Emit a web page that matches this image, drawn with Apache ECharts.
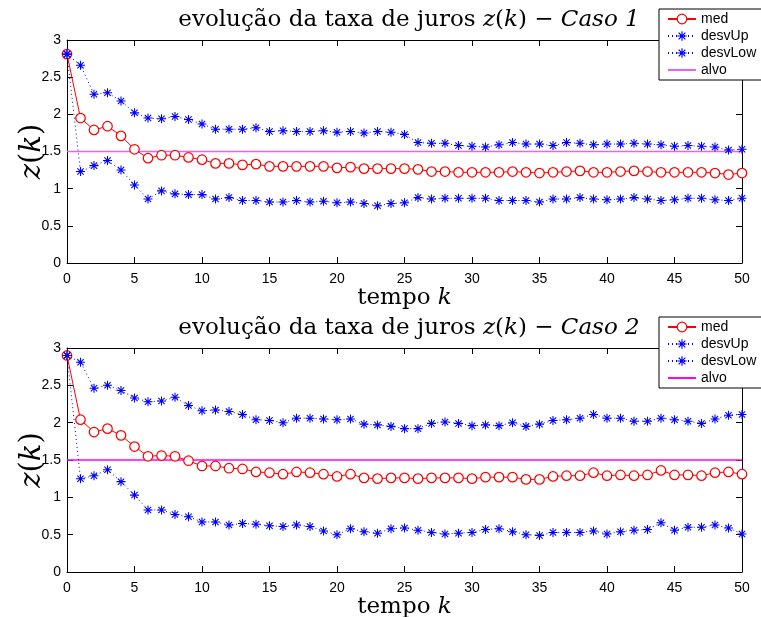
<!DOCTYPE html>
<html>
<head>
<meta charset="utf-8">
<script src="https://cdn.jsdelivr.net/npm/echarts@6/dist/echarts.min.js"></script>
<style>html,body{margin:0;padding:0;background:#fff}#c{width:761px;height:617px}</style>
</head>
<body>
<div id="c"></div>
<script>
// ---- data ----
const K = Array.from({length: 51}, (_, i) => i);
const X_TICKS = [0, 5, 10, 15, 20, 25, 30, 35, 40, 45, 50];
const Y_TICKS = [0, 0.5, 1, 1.5, 2, 2.5, 3];
const ALVO = 1.5;
const ALVO_X = [0, 50];
const SERIES_NAMES = ['med', 'desvUp', 'desvLow', 'alvo'];

// Caso 1
const med1 = [2.81,1.95,1.79,1.84,1.71,1.53,1.41,1.45,1.45,1.42,1.39,1.34,1.34,1.32,1.33,1.30,1.30,1.30,1.30,1.30,1.28,1.29,1.27,1.27,1.27,1.27,1.26,1.23,1.23,1.22,1.22,1.22,1.22,1.23,1.22,1.21,1.22,1.23,1.24,1.22,1.22,1.23,1.24,1.23,1.22,1.22,1.22,1.22,1.21,1.19,1.21];
const up1  = [2.81,2.66,2.27,2.29,2.18,2.02,1.95,1.94,1.97,1.93,1.87,1.80,1.80,1.80,1.82,1.77,1.78,1.77,1.77,1.78,1.76,1.77,1.75,1.77,1.76,1.73,1.62,1.61,1.61,1.58,1.57,1.56,1.59,1.62,1.60,1.60,1.58,1.62,1.61,1.59,1.60,1.60,1.61,1.60,1.59,1.57,1.58,1.57,1.56,1.52,1.53];
const low1 = [2.81,1.23,1.31,1.38,1.25,1.05,0.86,0.97,0.93,0.92,0.92,0.86,0.88,0.84,0.84,0.82,0.82,0.84,0.82,0.83,0.81,0.82,0.80,0.77,0.80,0.81,0.88,0.86,0.87,0.87,0.87,0.87,0.84,0.84,0.84,0.82,0.86,0.86,0.88,0.86,0.85,0.86,0.88,0.86,0.84,0.85,0.87,0.87,0.85,0.84,0.87];

// Caso 2
const med2 = [2.90,2.04,1.875,1.92,1.83,1.68,1.55,1.56,1.55,1.49,1.42,1.42,1.39,1.38,1.34,1.33,1.31,1.34,1.33,1.31,1.28,1.31,1.26,1.25,1.26,1.26,1.25,1.26,1.26,1.26,1.25,1.27,1.27,1.27,1.24,1.24,1.28,1.29,1.29,1.33,1.29,1.30,1.29,1.30,1.36,1.30,1.30,1.29,1.33,1.34,1.31];
const up2  = [2.90,2.81,2.46,2.50,2.43,2.33,2.28,2.29,2.34,2.23,2.16,2.17,2.15,2.11,2.04,2.03,2.00,2.06,2.06,2.05,2.04,2.05,1.98,1.97,1.95,1.92,1.92,1.99,2.01,1.99,1.96,1.97,1.96,2.00,1.95,1.98,2.03,2.04,2.06,2.11,2.06,2.06,2.02,2.02,2.06,2.04,2.02,1.99,2.05,2.10,2.11];
const low2 = [2.90,1.25,1.29,1.37,1.21,1.03,0.83,0.83,0.77,0.74,0.67,0.67,0.63,0.65,0.64,0.62,0.61,0.63,0.61,0.55,0.50,0.58,0.54,0.52,0.58,0.59,0.56,0.53,0.51,0.52,0.53,0.57,0.58,0.54,0.50,0.49,0.53,0.53,0.53,0.55,0.51,0.54,0.56,0.57,0.66,0.56,0.60,0.60,0.63,0.59,0.51];

const TITLES = ['Caso 1', 'Caso 2'];

// ---- chart ----
const STAR = 'path://M-5,-0.6 L5,-0.6 L5,0.6 L-5,0.6 Z M-0.6,-5 L0.6,-5 L0.6,5 L-0.6,5 Z ' +
  'M-3.08,-3.92 L3.92,3.08 L3.08,3.92 L-3.92,-3.08 Z M3.92,-3.08 L-3.08,3.92 L-3.92,3.08 L3.08,-3.92 Z';

const pair = arr => arr.map((v, i) => [K[i], v]);
const SANS = 'Liberation Sans';
const SERIF = 'DejaVu Serif';

const grids = [
  {left: 67, top: 40, width: 675, height: 223, outerBoundsMode: 'none', containLabel: false},
  {left: 67, top: 348, width: 675, height: 224, outerBoundsMode: 'none', containLabel: false}
];

function rich(size) {
  return {
    n: {fontFamily: SERIF, fontSize: size, fontWeight: 'normal', color: '#000'},
    i: {fontFamily: SERIF, fontStyle: 'italic', fontWeight: 'normal', fontSize: size, color: '#000'}
  };
}

function xAxes(gi) {
  const base = {
    type: 'value', gridIndex: gi, min: 0, max: 50, interval: 5,
    splitLine: {show: false},
    axisLine: {show: true, onZero: false, lineStyle: {color: '#000', width: 1}},
    axisTick: {show: true, inside: true, length: 6, lineStyle: {color: '#000'}},
  };
  return [
    Object.assign({}, base, {
      position: 'bottom',
      axisLabel: {color: '#000', fontFamily: SANS, fontSize: 14, margin: 9},
      name: '{n|tempo }{i|k}', nameLocation: 'middle', nameGap: 18, nameMoveOverlap: true,
      nameTextStyle: {rich: rich(23)}
    }),
    Object.assign({}, base, {position: 'top', axisLabel: {show: false}})
  ];
}
function yAxes(gi) {
  const base = {
    type: 'value', gridIndex: gi, min: 0, max: 3, interval: 0.5,
    splitLine: {show: false},
    axisLine: {show: true, onZero: false, lineStyle: {color: '#000', width: 1}},
    axisTick: {show: true, inside: true, length: 6, lineStyle: {color: '#000'}},
  };
  return [
    Object.assign({}, base, {
      position: 'left',
      axisLabel: {color: '#000', fontFamily: SANS, fontSize: 14, margin: 6},
      name: '{i|z}{n|(}{i|k}{n|)}', nameLocation: 'middle', nameGap: 20, nameRotate: 90,
      nameMoveOverlap: false,
      nameTextStyle: {rich: rich(29)}
    }),
    Object.assign({}, base, {position: 'right', axisLabel: {show: false}})
  ];
}

function seriesFor(gi, med, up, low, suffix, alvoColor) {
  const xi = gi * 2, yi = gi * 2;
  return [
    {name: 'med' + suffix, type: 'line', xAxisIndex: xi, yAxisIndex: yi, data: pair(med),
     symbol: 'circle', symbolSize: 9.5, showAllSymbol: true,
     lineStyle: {color: '#ff0000', width: 1}, itemStyle: {color: '#ffffff', borderColor: '#ff0000', borderWidth: 1.25},
     emphasis: {disabled: true}, z: 3},
    {name: 'desvUp' + suffix, type: 'line', xAxisIndex: xi, yAxisIndex: yi, data: pair(up),
     symbol: STAR, symbolSize: 9, showAllSymbol: true,
     lineStyle: {color: '#0000ff', width: 1, type: [1, 3]}, itemStyle: {color: '#0000ff'},
     emphasis: {disabled: true}, z: 4},
    {name: 'desvLow' + suffix, type: 'line', xAxisIndex: xi, yAxisIndex: yi, data: pair(low),
     symbol: STAR, symbolSize: 9, showAllSymbol: true,
     lineStyle: {color: '#0000ff', width: 1, type: [1, 3]}, itemStyle: {color: '#0000ff'},
     emphasis: {disabled: true}, z: 4},
    {name: 'alvo' + suffix, type: 'line', xAxisIndex: xi, yAxisIndex: yi,
     data: ALVO_X.map(x => [x, ALVO]), showSymbol: false, symbol: 'none',
     lineStyle: {color: alvoColor, width: 1.3}, itemStyle: {color: alvoColor},
     emphasis: {disabled: true}, z: 2}
  ];
}

function legendFor(top, suffix) {
  return {
    orient: 'vertical', left: 659, top: top,
    data: SERIES_NAMES.map(n => {
      if (n === 'alvo') return {name: n + suffix, itemStyle: {opacity: 0}};
      if (n === 'med') return {name: n + suffix, itemStyle: {color: '#fff', borderColor: '#ff0000', borderWidth: 1.2}};
      return {name: n + suffix};
    }),
    formatter: n => n.replace(/_\d$/, ''),
    backgroundColor: '#fff', borderColor: '#000', borderWidth: 1, borderRadius: 0,
    padding: [3, 10, 3, 8], itemGap: 3, itemWidth: 28, itemHeight: 12,
    textStyle: {fontFamily: SANS, fontSize: 14, color: '#000'},
    selectedMode: false, z: 10
  };
}

function titleFor(top, caso) {
  return {
    text: '{n|evolução da taxa de juros }{i|z}{n|(}{i|k}{n|) − }{i|' + caso + '}',
    left: 404, top: top, textAlign: 'center',
    textStyle: {fontWeight: 'normal', rich: rich(23)}
  };
}

const chart = echarts.init(document.getElementById('c'), null, {renderer: 'canvas'});
chart.setOption({
  animation: false,
  backgroundColor: '#fff',
  title: [titleFor(4, TITLES[0]), titleFor(312, TITLES[1])],
  legend: [legendFor(9, '_1'), legendFor(317, '_2')],
  grid: grids,
  xAxis: [...xAxes(0), ...xAxes(1)],
  yAxis: [...yAxes(0), ...yAxes(1)],
  series: [
    ...seriesFor(0, med1, up1, low1, '_1', '#f060f0'),
    ...seriesFor(1, med2, up2, low2, '_2', '#ff00ff')
  ]
});
</script>
</body>
</html>
